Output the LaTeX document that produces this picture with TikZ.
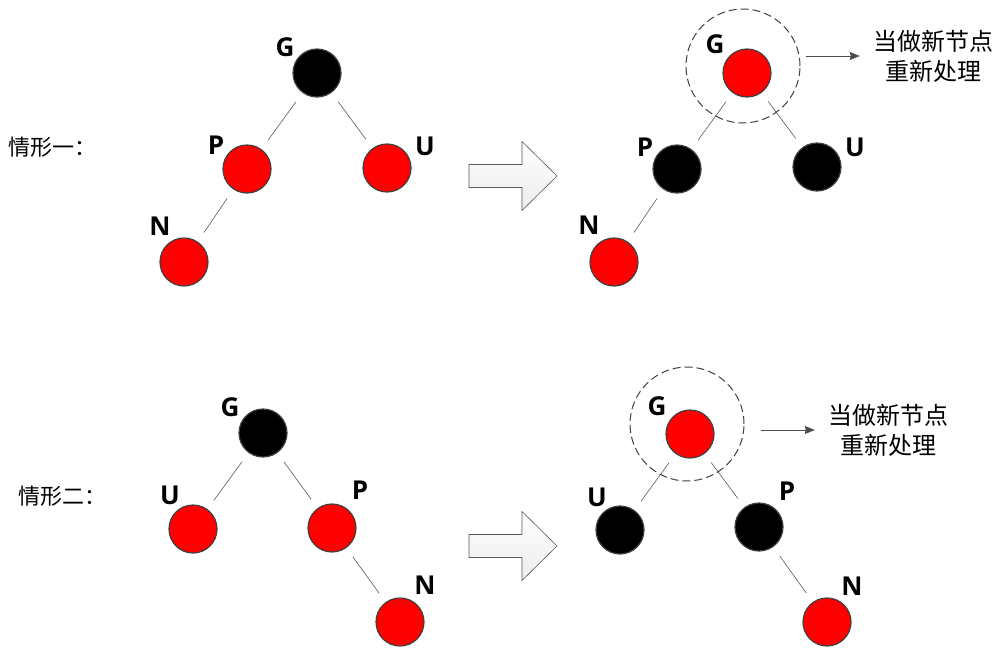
\documentclass[tikz,border=0pt]{standalone}
\usepackage{fontspec}
\setmainfont{Open Sans}
\newfontfamily\cjk{Noto Sans CJK SC}
\usepackage{xcolor}
\definecolor{NodeRed}{HTML}{FF0000}
\definecolor{RimGray}{HTML}{404040}
\definecolor{EdgeGray}{HTML}{595959}
\definecolor{TipGray}{HTML}{4D4D4D}
\usetikzlibrary{arrows.meta}

\tikzset{
  rnode/.style={circle, minimum size=48pt, inner sep=0pt, draw=RimGray, line width=1.2pt, fill=NodeRed},
  bnode/.style={circle, minimum size=48pt, inner sep=0pt, draw=RimGray, line width=1.2pt, fill=black},
  lbl/.style={font=\fontsize{26}{26}\selectfont\bfseries, inner sep=0pt},
  tag/.style args={#1/#2/#3}{label={[lbl, xshift=#1pt, yshift=#2pt]center:#3}},
  link/.style={draw=EdgeGray, line width=0.6pt, shorten <=11pt, shorten >=11pt},
  ring/.style={circle, minimum size=114pt, inner sep=0pt, draw=RimGray, line width=1pt, dash pattern=on 8pt off 4pt},
  note/.style={font=\cjk\fontsize{24}{30}\selectfont, align=center, inner sep=0pt},
  case/.style={font=\cjk\fontsize{22}{22}\selectfont, inner sep=0pt, anchor=west},
  pointer/.style={draw=TipGray, line width=0.8pt, -{Stealth[length=10pt, width=8pt, inset=1pt]}},
  bigarrow/.style={draw=gray!70!black, line width=0.6pt, top color=white, bottom color=gray!15}
}

\begin{document}
\begin{tikzpicture}[x=1pt, y=-1pt]
  \useasboundingbox (0,0) rectangle (1002,656);

  % Case one: before
  \node[case] (c1) at (8,147) {情形一：};
  \node[bnode, tag=-32/26/G] (g1) at (317,73) {};
  \node[rnode, tag=-31/24/P] (p1) at (247,169) {};
  \node[rnode, tag=38/22/U] (u1) at (387,168) {};
  \node[rnode, tag=-24/36/N] (n1) at (184,262) {};
  \draw[link] (g1) -- (p1);
  \draw[link] (g1) -- (u1);
  \draw[link] (p1) -- (n1);

  % Case one: after
  \node[rnode, tag=-32/29/G] (g2) at (747,73) {};
  \node[bnode, tag=-32/22/P] (p2) at (677,169) {};
  \node[bnode, tag=38/20/U] (u2) at (817,167) {};
  \node[rnode, tag=-25/37/N] (n2) at (614,262) {};
  \draw[link] (g2) -- (p2);
  \draw[link] (g2) -- (u2);
  \draw[link] (p2) -- (n2);
  \node[ring] (r2) at (743,66) {};
  \node[note] (t2) at (933,56) {当做新节点\\重新处理};
  \draw[pointer] ([xshift=5pt]r2.east |- t2.west) -- ([xshift=-13pt]t2.west);

  % Case two: before
  \node[case] (c3) at (18,496) {情形二：};
  \node[bnode, tag=-33/26/G] (g3) at (263,433) {};
  \node[rnode, tag=-23/34/U] (u3) at (193,529) {};
  \node[rnode, tag=28/38/P] (p3) at (332,528) {};
  \node[rnode, tag=25/37/N] (n3) at (400,622) {};
  \draw[link] (g3) -- (u3);
  \draw[link] (g3) -- (p3);
  \draw[link] (p3) -- (n3);

  % Case two: after
  \node[rnode, tag=-33/28/G] (g4) at (690,434) {};
  \node[bnode, tag=-23/33/U] (u4) at (620,530) {};
  \node[bnode, tag=28/36/P] (p4) at (759,527) {};
  \node[rnode, tag=25/36/N] (n4) at (827,622) {};
  \draw[link] (g4) -- (u4);
  \draw[link] (g4) -- (p4);
  \draw[link] (p4) -- (n4);
  \node[ring] (r4) at (687,424) {};
  \node[note] (t4) at (888,430) {当做新节点\\重新处理};
  \draw[pointer] ([xshift=16pt]r4.east |- t4.west) -- ([xshift=-13pt]t4.west);

  % Block arrows
  \foreach \cy in {176,546}
    \draw[bigarrow] (469,\cy-11.5) -- (522,\cy-11.5) -- (522,\cy-34.5) -- (557,\cy)
      -- (522,\cy+34.5) -- (522,\cy+11.5) -- (469,\cy+11.5) -- cycle;
\end{tikzpicture}
\end{document}
